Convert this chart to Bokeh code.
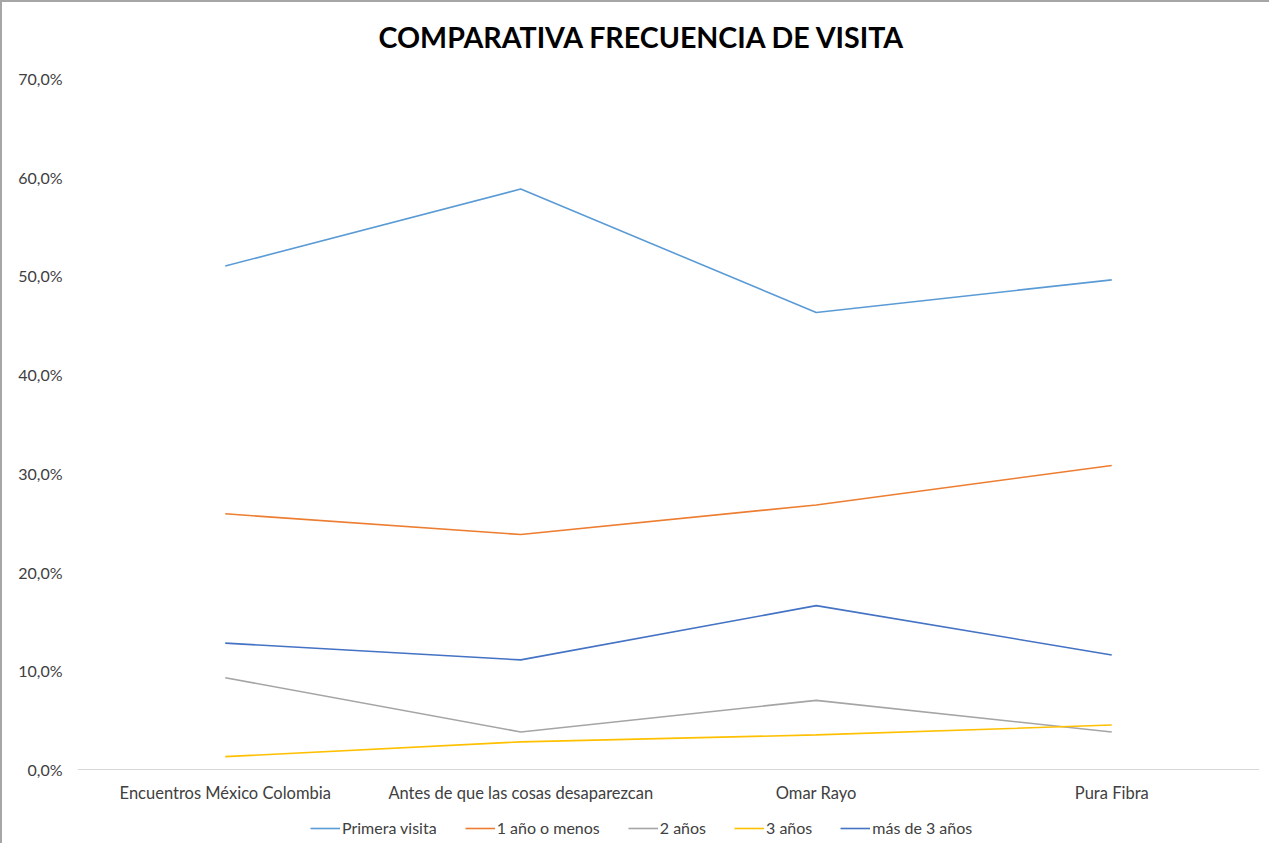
from bokeh.plotting import figure
from bokeh.models import (FactorRange, Range1d, Legend, LegendItem, FixedTicker,
                          CustomJSTickFormatter, Label)
from bokeh.embed import file_html
from bokeh.resources import INLINE

categories = ["Encuentros México Colombia", "Antes de que las cosas desaparezcan",
              "Omar Rayo", "Pura Fibra"]
series_names = ["Primera visita", "1 año o menos", "2 años", "3 años", "más de 3 años"]
primera_visita = [51.0, 58.8, 46.3, 49.6]
un_anio_o_menos = [25.9, 23.8, 26.8, 30.8]
dos_anios = [9.3, 3.8, 7.0, 3.8]
tres_anios = [1.3, 2.8, 3.5, 4.5]
mas_de_tres = [12.8, 11.1, 16.6, 11.6]
y_ticks = [0, 10, 20, 30, 40, 50, 60, 70]
title_text = "COMPARATIVA  FRECUENCIA  DE VISITA"

colors = ["#5B9BD5", "#ED7D31", "#A5A5A5", "#FFC000", "#4472C4"]
FONT = "Lato"

# frame spans the whole chart height so title, category labels and legend sit inside it
p = figure(frame_width=1182, frame_height=841, output_backend="svg", toolbar_location=None,
           x_range=FactorRange(*categories), y_range=Range1d(-7.5, 77.7),
           min_border_left=75, min_border_right=10, min_border_top=0,
           min_border_bottom=0)
p.styles = {"border-left": "2px solid #a6a6a6", "border-top": "2px solid #a6a6a6"}
p.outline_line_color = None
p.grid.visible = False

title = Label(x=1.935, y=74.16, text=title_text, text_align="center",
              text_baseline="middle", text_font=FONT, text_font_style="bold",
              text_font_size="28.6px", text_color="#000000")
p.add_layout(title)

p.xaxis.fixed_location = 0
p.xaxis.axis_line_color = "#d9d9d9"
p.xaxis.major_tick_line_color = None
p.xaxis.minor_tick_line_color = None
p.xaxis.major_label_standoff = 8
p.xaxis.major_label_text_font = FONT
p.xaxis.major_label_text_font_size = "16.5px"
p.xaxis.major_label_text_color = "#404040"

p.yaxis.axis_line_color = None
p.yaxis.major_tick_line_color = None
p.yaxis.minor_tick_line_color = None
p.yaxis.ticker = FixedTicker(ticks=y_ticks)
p.yaxis.formatter = CustomJSTickFormatter(code="return tick.toFixed(1).replace('.', ',') + '%';")
p.yaxis.major_label_standoff = 9
p.yaxis.major_label_text_font = FONT
p.yaxis.major_label_text_font_size = "16px"
p.yaxis.major_label_text_color = "#404040"

all_series = [primera_visita, un_anio_o_menos, dos_anios, tres_anios, mas_de_tres]
items = []
for name, vals, c in zip(series_names, all_series, colors):
    r = p.line(x=categories, y=vals, line_color=c, line_width=1.6)
    items.append(LegendItem(label=name, renderers=[r]))

legend = Legend(items=items, orientation="horizontal", location=(233, 6),
                label_text_font=FONT, label_text_font_size="16px",
                label_text_color="#404040", border_line_color=None,
                background_fill_alpha=0, margin=0, padding=2, spacing=28,
                glyph_width=30, glyph_height=16, label_height=16, label_standoff=2)
p.add_layout(legend, "center")

open("out.html", "w").write(file_html(p, INLINE))
